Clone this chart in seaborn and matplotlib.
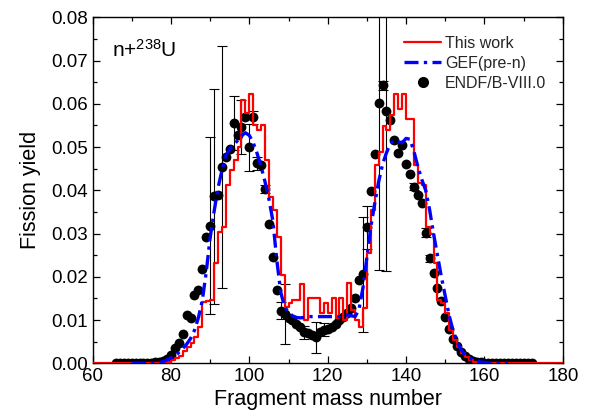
import matplotlib
matplotlib.use("Agg")
import matplotlib.pyplot as plt
from matplotlib.lines import Line2D
from matplotlib.ticker import MultipleLocator, FormatStrFormatter
import seaborn as sns
import pandas as pd

# ---------------- data ----------------
# "This work" step histogram: bin start (mass number) and yield
RED_A = [60, 79, 80, 81, 82, 83, 84, 85, 86, 87, 88, 89, 90, 91, 92, 93, 94, 95, 96, 97,
         98, 99, 100, 101, 102, 103, 104, 105, 106, 107, 108, 109, 110, 111, 112, 113, 114,
         115, 116, 117, 118, 119, 120, 121, 122, 123, 124, 125, 126, 127, 128, 129, 130,
         131, 132, 133, 134, 135, 136, 137, 138, 139, 140, 141, 142, 143, 144, 145, 146,
         147, 148, 149, 150, 151, 152, 153, 154, 155, 156, 157, 158, 180]
RED_Y = [0.0, 0.0003, 0.0008, 0.0012, 0.0017, 0.0028, 0.0038, 0.0046, 0.0061, 0.0085,
         0.0142, 0.0144, 0.0146, 0.0233, 0.0304, 0.0316, 0.0412, 0.0447, 0.0470, 0.0501,
         0.0609, 0.0578, 0.0622, 0.0551, 0.0540, 0.0551, 0.0470, 0.0385, 0.0354, 0.0293,
         0.0204, 0.0131, 0.0139, 0.0146, 0.0146, 0.0183, 0.0100, 0.0150, 0.0150, 0.0150,
         0.0116, 0.0139, 0.0116, 0.0150, 0.0105, 0.0150, 0.0100, 0.0185, 0.0123, 0.0100,
         0.0085, 0.0127, 0.0254, 0.0354, 0.0458, 0.0489, 0.0549, 0.0539, 0.0574, 0.0623,
         0.0587, 0.0623, 0.0564, 0.0564, 0.0458, 0.0416, 0.0412, 0.0316, 0.0300, 0.0231,
         0.0146, 0.0140, 0.0116, 0.0077, 0.0054, 0.0038, 0.0023, 0.0015, 0.0008, 0.0004,
         0.0, 0.0]

# GEF(pre-n)
GEF_A = [70, 72, 74, 76, 77, 78, 79, 80, 81, 82, 83, 84, 85, 86, 87, 88, 89, 90, 91, 92,
         93, 94, 95, 96, 97, 98, 99, 100, 101, 102, 103, 104, 105, 106, 107, 108, 109, 110,
         111, 112, 113, 114, 115, 116, 117, 118, 119, 120, 121, 122, 123, 124, 125, 126,
         127, 128, 129, 130, 131, 132, 133, 134, 135, 136, 137, 138, 139, 140, 141, 142,
         143, 144, 145, 146, 147, 148, 149, 150, 151, 152, 153, 154, 155, 156, 157, 158,
         159, 160, 162, 164, 166]
GEF_Y = [0.0, 0.0, 0.0, 0.00005, 0.0001, 0.0004, 0.0008, 0.0012, 0.0017, 0.0025, 0.0034,
         0.0044, 0.0057, 0.0076, 0.0105, 0.0145, 0.0210, 0.0290, 0.0350, 0.0405, 0.0445,
         0.0480, 0.0495, 0.0505, 0.0515, 0.0526, 0.0533, 0.0527, 0.0510, 0.0485, 0.0455,
         0.0420, 0.0380, 0.0330, 0.0240, 0.0165, 0.0130, 0.0118, 0.0110, 0.0106, 0.0105,
         0.0106, 0.0108, 0.0108, 0.0108, 0.0108, 0.0108, 0.0108, 0.0108, 0.0108, 0.0108,
         0.0110, 0.0112, 0.0110, 0.0108, 0.0125, 0.0175, 0.0245, 0.0315, 0.0370, 0.0420,
         0.0460, 0.0487, 0.0508, 0.0516, 0.0512, 0.0510, 0.0520, 0.0518, 0.0490, 0.0455,
         0.0425, 0.0400, 0.0355, 0.0300, 0.0250, 0.0200, 0.0155, 0.0110, 0.0075, 0.0050,
         0.0032, 0.0020, 0.0013, 0.0008, 0.0005, 0.0003, 0.0002, 0.0, 0.0, 0.0]

# ENDF/B-VIII.0 (mass numbers 66..172)
ENDF_A = list(range(66, 173))
ENDF_Y = [0.00001, 0.00001, 0.00002, 0.00003, 0.00004, 0.00005, 0.00007, 0.0001, 0.00012,
          0.00015, 0.0002, 0.0003,
          0.0005, 0.0010, 0.0019, 0.0035, 0.0046, 0.0068, 0.0112, 0.0105, 0.0157, 0.0170,
          0.0217, 0.0292, 0.0318, 0.0386, 0.0390, 0.0453, 0.0478, 0.0495, 0.0556, 0.0528,
          0.0546, 0.0569, 0.0499, 0.0569, 0.0462, 0.0458, 0.0403, 0.0322, 0.0245, 0.0169,
          0.0122, 0.0114, 0.0104, 0.0100, 0.0090, 0.0085, 0.0072, 0.0069, 0.0065, 0.0060,
          0.0073, 0.0078, 0.0080, 0.0084, 0.0090, 0.0099, 0.0108, 0.0116, 0.0127, 0.0150,
          0.0193, 0.0206, 0.0314, 0.0399, 0.0484, 0.0601, 0.0643, 0.0583, 0.0563, 0.0516,
          0.0486, 0.0505, 0.0461, 0.0438, 0.0408, 0.0389, 0.0371, 0.0302, 0.0243, 0.0208,
          0.0173, 0.0145, 0.0108, 0.0079, 0.0056, 0.0039, 0.0027, 0.0017, 0.0010, 0.0005,
          0.0003, 0.0002, 0.00015, 0.0001, 0.00008, 0.00006, 0.00005, 0.00004, 0.00003,
          0.00002, 0.00002, 0.00001, 0.00001, 0.00001, 0.00001]
# ENDF uncertainties shown as error bars
ERR_A = [90, 91, 93, 96, 98, 100, 101, 102, 104, 108, 109, 114, 117, 119, 129, 130, 133,
         134, 135, 142, 145, 146]
ERR_V = [0.0205, 0.0248, 0.0280, 0.0062, 0.0062, 0.0055, 0.0015, 0.0015, 0.0010, 0.0020,
         0.0070, 0.0015, 0.0036, 0.0015, 0.0133, 0.0050, 0.0385, 0.0010, 0.0370, 0.0008,
         0.0010, 0.0008]

# ---------------- plot ----------------
sns.set_theme(style="ticks")
plt.rcParams["font.family"] = ["Liberation Sans", "DejaVu Sans"]
plt.rcParams["mathtext.fontset"] = "custom"
plt.rcParams["mathtext.rm"] = "Liberation Sans"
plt.rcParams["mathtext.it"] = "Liberation Sans"

fig = plt.figure(figsize=(5.95, 4.16), dpi=100)
ax = fig.add_axes([0.1555, 0.1267, 0.7905, 0.8317])

red_df = pd.DataFrame({"A": RED_A, "Y": RED_Y})
gef_df = pd.DataFrame({"A": GEF_A, "Y": GEF_Y})
endf_df = pd.DataFrame({"A": ENDF_A, "Y": ENDF_Y})
err_df = pd.DataFrame({"A": ERR_A,
                       "Y": [ENDF_Y[ENDF_A.index(a)] for a in ERR_A],
                       "E": ERR_V})

ax.errorbar(err_df["A"], err_df["Y"], yerr=err_df["E"], fmt="none", ecolor="black",
            elinewidth=0.8, capsize=3.5, capthick=0.8, zorder=2)
sns.scatterplot(data=endf_df, x="A", y="Y", ax=ax, color="black", s=50,
                edgecolor="black", linewidth=0, zorder=3, legend=False)
sns.lineplot(data=red_df, x="A", y="Y", ax=ax, color="#ff0000", linewidth=1.6,
             drawstyle="steps-post", zorder=4, legend=False)
sns.lineplot(data=gef_df, x="A", y="Y", ax=ax, color="#0000ff", linewidth=2.4,
             linestyle=(0, (4.2, 1.6, 1.0, 1.6)), zorder=5, legend=False)

ax.set_xlim(60, 180)
ax.set_ylim(0, 0.08)
ax.xaxis.set_major_locator(MultipleLocator(20))
ax.xaxis.set_minor_locator(MultipleLocator(10))
ax.yaxis.set_major_locator(MultipleLocator(0.01))
ax.yaxis.set_minor_locator(MultipleLocator(0.005))
ax.yaxis.set_major_formatter(FormatStrFormatter("%.2f"))
ax.tick_params(which="both", direction="in", top=True, right=True, color="black",
               width=0.9, labelsize=13.5, labelcolor="black")
ax.tick_params(which="major", length=5)
ax.tick_params(which="minor", length=2.8)
for s in ax.spines.values():
    s.set_color("black")
    s.set_linewidth(1.0)

ax.set_xlabel("Fragment mass number", fontsize=15.5, color="black", labelpad=2.5)
ax.set_ylabel("Fission yield", fontsize=15.5, color="black", labelpad=7)

ax.text(0.041, 0.905, r"n+$^{238}$U", transform=ax.transAxes, fontsize=15,
        color="black", va="center", ha="left")

handles = [
    Line2D([], [], color="#ff0000", linewidth=1.6),
    Line2D([], [], color="#0000ff", linewidth=2.4, linestyle=(0, (4.2, 1.6, 1.0, 1.6))),
    Line2D([], [], color="black", marker="o", linestyle="none", markersize=7),
]
ax.legend(handles, ["This work", "GEF(pre-n)", "ENDF/B-VIII.0"], loc="upper right",
          bbox_to_anchor=(0.985, 0.975), frameon=False, fontsize=11.5,
          handlelength=2.3, handletextpad=0.25, labelspacing=0.32, borderaxespad=0.2)

fig.savefig("out.png", dpi=100)
